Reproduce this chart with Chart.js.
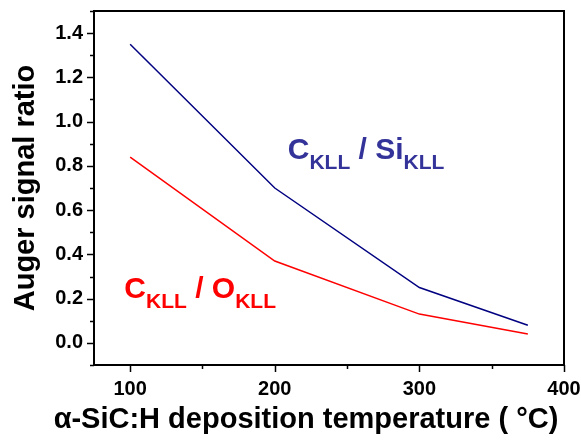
<!DOCTYPE html>
<html>
<head>
<meta charset="utf-8">
<script src="https://cdn.jsdelivr.net/npm/chart.js@4"></script>
<style>
  html, body { margin: 0; padding: 0; background: #fff; }
  #wrap { width: 581px; height: 440px; }
</style>
</head>
<body>
<div id="wrap"><canvas id="chart" width="581" height="440"></canvas></div>
<script>
// data
const temperatures = [100, 200, 300, 375];
const ratioCSi = [1.35, 0.70, 0.25, 0.08];
const ratioCO = [0.84, 0.37, 0.13, 0.04];
const xTickValues = [100, 200, 300, 400];
const yTickValues = [0.0, 0.2, 0.4, 0.6, 0.8, 1.0, 1.2, 1.4];
const xMinorValues = [100, 150, 200, 250, 300, 350, 400];
const yMinorValues = [-0.1, 0.0, 0.1, 0.2, 0.3, 0.4, 0.5, 0.6, 0.7, 0.8, 0.9, 1.0, 1.1, 1.2, 1.3, 1.4, 1.5];

const FONT = 'Arial, "Liberation Sans", sans-serif';
const xTitle = 'α-SiC:H deposition temperature ( °C)';

// labels placed in data coordinates
const annotations = [
    { x: 209, y: 0.83, main: ['C', ' / Si'], color: '#333399' },
    { x: 96, y: 0.205, main: ['C', ' / O'], color: '#ff0000' }
];

const frameAndTicks = {
    id: 'frameAndTicks',
    afterDraw(chart) {
        const ctx = chart.ctx;
        const area = chart.chartArea;
        const xs = chart.scales.x;
        const ys = chart.scales.y;
        ctx.save();
        ctx.strokeStyle = '#000';
        ctx.lineWidth = 2;
        ctx.strokeRect(area.left, area.top, area.right - area.left, area.bottom - area.top);

        // x ticks (outward)
        ctx.lineWidth = 1.5;
        xMinorValues.forEach(v => {
            const px = Math.round(xs.getPixelForValue(v)) + 0.5;
            const len = xTickValues.includes(v) ? 7 : 4;
            ctx.beginPath();
            ctx.moveTo(px, area.bottom);
            ctx.lineTo(px, area.bottom + len);
            ctx.stroke();
        });
        // y ticks (outward)
        yMinorValues.forEach(v => {
            const py = Math.round(ys.getPixelForValue(v)) + 0.5;
            const major = yTickValues.some(t => Math.abs(t - v) < 1e-9);
            const len = major ? 7 : 4;
            ctx.beginPath();
            ctx.moveTo(area.left, py);
            ctx.lineTo(area.left - len, py);
            ctx.stroke();
        });

        // x axis title, sits a bit left of the plot centre in the original
        ctx.fillStyle = '#000';
        ctx.font = 'bold 29px ' + FONT;
        ctx.textAlign = 'center';
        ctx.textBaseline = 'alphabetic';
        ctx.fillText(xTitle, (area.left + area.right) / 2 - 23, chart.height - 12);

        // series labels with subscripts
        ctx.textAlign = 'left';
        annotations.forEach(a => {
            let px = xs.getPixelForValue(a.x);
            const py = ys.getPixelForValue(a.y);
            ctx.fillStyle = a.color;
            a.main.forEach(part => {
                ctx.font = 'bold 30px ' + FONT;
                ctx.fillText(part, px, py);
                px += ctx.measureText(part).width;
                ctx.font = 'bold 21px ' + FONT;
                ctx.fillText('KLL', px, py + 10);
                px += ctx.measureText('KLL').width;
            });
        });
        ctx.restore();
    }
};

new Chart(document.getElementById('chart'), {
    type: 'line',
    data: {
        datasets: [
            {
                label: 'C/Si',
                data: temperatures.map((t, i) => ({ x: t, y: ratioCSi[i] })),
                borderColor: '#000080',
                borderWidth: 1.5,
                pointRadius: 0,
                tension: 0,
                fill: false
            },
            {
                label: 'C/O',
                data: temperatures.map((t, i) => ({ x: t, y: ratioCO[i] })),
                borderColor: '#ff0000',
                borderWidth: 1.5,
                pointRadius: 0,
                tension: 0,
                fill: false
            }
        ]
    },
    options: {
        responsive: false,
        animation: false,
        layout: { padding: { top: 11, right: 17, left: 0, bottom: 0 } },
        plugins: {
            legend: { display: false },
            tooltip: { enabled: false }
        },
        scales: {
            x: {
                type: 'linear',
                min: 75,
                max: 400,
                grid: { display: false, drawTicks: false },
                border: { display: false },
                afterBuildTicks: scale => { scale.ticks = xTickValues.map(v => ({ value: v })); },
                afterFit: scale => {
                    scale.height = 75;
                    scale.paddingLeft = 0;
                    scale.paddingRight = 0;
                },
                ticks: {
                    color: '#000',
                    padding: 12,
                    maxRotation: 0,
                    font: { family: FONT, size: 20, weight: 'bold' },
                    callback: v => String(v)
                },
                title: { display: false }
            },
            y: {
                type: 'linear',
                min: -0.1,
                max: 1.5,
                grid: { display: false, drawTicks: false },
                border: { display: false },
                afterBuildTicks: scale => { scale.ticks = yTickValues.map(v => ({ value: v })); },
                afterFit: scale => {
                    scale.width = 94;
                    scale.paddingTop = 0;
                    scale.paddingBottom = 0;
                },
                ticks: {
                    color: '#000',
                    padding: 11,
                    font: { family: FONT, size: 20, weight: 'bold' },
                    callback: v => v.toFixed(1)
                },
                title: {
                    display: true,
                    text: 'Auger signal ratio',
                    color: '#000',
                    padding: { top: 9, bottom: 0 },
                    font: { family: FONT, size: 29, weight: 'bold' }
                }
            }
        }
    },
    plugins: [frameAndTicks]
});
</script>
</body>
</html>
